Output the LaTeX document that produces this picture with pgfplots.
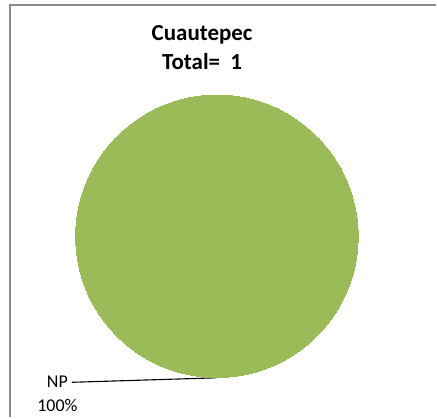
\documentclass[border=0pt]{standalone}
\usepackage{pgfplots}
\pgfplotsset{compat=1.18}
\usepackage{fontspec}
\setmainfont{Carlito}
\definecolor{pieGreen}{HTML}{9BBB59}
\definecolor{frameGray}{HTML}{8C8C8C}
\begin{document}
\begin{tikzpicture}
\begin{axis}[
  scale only axis, width=437pt, height=418pt,
  xmin=0, xmax=437, ymin=0, ymax=418,
  hide axis, clip=false,
]
% keep the full canvas as bounding box
\path (axis cs:0,0) rectangle (axis cs:437,418);
% single slice: NP = 1 (100%)
\addplot[only marks, mark=*, mark size=141.5pt, color=pieGreen,
  mark options={fill=pieGreen, draw=pieGreen, line width=0pt}] coordinates {(217.3,181.3)};
% chart frame
\draw[frameGray, line width=1.6pt] (axis cs:9.8,0) -- (axis cs:9.8,413.2) -- (axis cs:437,413.2);
% title
\node[font=\fontsize{23}{28}\selectfont\bfseries, align=center] at (axis cs:202.5,383) {Cuautepec};
\node[font=\fontsize{23}{28}\selectfont\bfseries, align=center] at (axis cs:202.5,356) {Total=\ \ 1};
% data label
\draw[black, line width=1.1pt] (axis cs:72,35) -- (axis cs:217,39.5);
\node[font=\fontsize{18}{22}\selectfont, anchor=base] at (axis cs:57.5,30) {NP};
\node[font=\fontsize{18}{22}\selectfont, anchor=base] at (axis cs:57.5,6) {100\%};
\end{axis}
\end{tikzpicture}
\end{document}
